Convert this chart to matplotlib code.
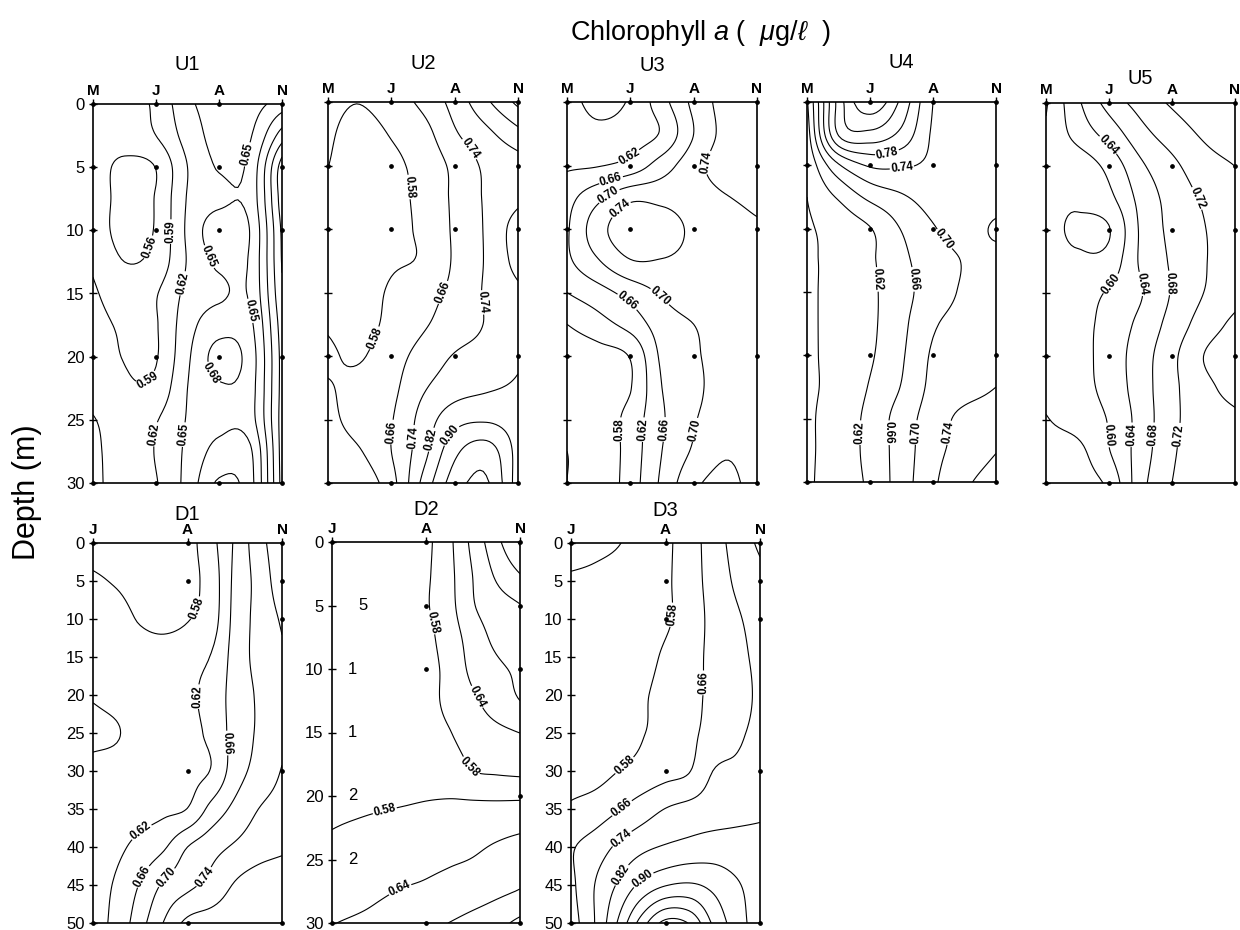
import numpy as np
import matplotlib
matplotlib.use("Agg")
import matplotlib.pyplot as plt

plt.rcParams['font.family'] = ['Liberation Sans', 'DejaVu Sans']
plt.rcParams['mathtext.fontset'] = 'custom'
plt.rcParams['mathtext.rm'] = 'Liberation Sans'
plt.rcParams['mathtext.it'] = 'Liberation Sans:italic'

# ---------------------------------------------------------------- data
UP_MONTHS = ['M', 'J', 'A', 'N']
DOWN_MONTHS = ['J', 'A', 'N']

# grid columns (month index) and rows (depth, m)
UP_X = [0, 0.5, 1, 1.5, 2, 2.5, 3]
UP_Z = [0, 2.5, 5, 7.5, 10, 12.5, 15, 17.5, 20, 22.5, 25, 27.5, 30]
DN_X = [0, 0.25, 0.5, 0.75, 1, 1.25, 1.5, 1.75, 2]
DN_Z50 = [0, 5, 10, 15, 20, 25, 30, 35, 40, 45, 50]
DN_Z30 = [0, 2.5, 5, 7.5, 10, 12.5, 15, 17.5, 20, 22.5, 25, 27.5, 30]

U1_CHL = [
    [0.572, 0.578, 0.596, 0.643, 0.662, 0.662, 0.636],
    [0.573, 0.575, 0.590, 0.632, 0.660, 0.652, 0.575],
    [0.575, 0.553, 0.561, 0.620, 0.652, 0.640, 0.515],
    [0.576, 0.552, 0.562, 0.622, 0.643, 0.638, 0.515],
    [0.578, 0.550, 0.563, 0.625, 0.667, 0.648, 0.525],
    [0.586, 0.560, 0.570, 0.622, 0.655, 0.645, 0.528],
    [0.594, 0.575, 0.588, 0.628, 0.645, 0.645, 0.535],
    [0.600, 0.586, 0.588, 0.638, 0.668, 0.656, 0.545],
    [0.603, 0.589, 0.588, 0.645, 0.690, 0.665, 0.550],
    [0.608, 0.594, 0.598, 0.650, 0.677, 0.662, 0.550],
    [0.622, 0.604, 0.618, 0.652, 0.672, 0.662, 0.548],
    [0.630, 0.600, 0.622, 0.656, 0.690, 0.684, 0.548],
    [0.635, 0.595, 0.618, 0.660, 0.714, 0.690, 0.550],
]
U2_CHL = [
    [0.600, 0.582, 0.620, 0.680, 0.770, 0.885, 1.000],
    [0.590, 0.555, 0.585, 0.630, 0.730, 0.800, 0.875],
    [0.581, 0.545, 0.565, 0.605, 0.680, 0.755, 0.790],
    [0.570, 0.540, 0.560, 0.600, 0.675, 0.750, 0.800],
    [0.568, 0.540, 0.560, 0.595, 0.672, 0.750, 0.860],
    [0.566, 0.540, 0.570, 0.590, 0.670, 0.748, 0.850],
    [0.570, 0.550, 0.590, 0.630, 0.680, 0.750, 0.805],
    [0.575, 0.555, 0.600, 0.650, 0.700, 0.745, 0.800],
    [0.588, 0.574, 0.625, 0.690, 0.745, 0.770, 0.810],
    [0.575, 0.600, 0.640, 0.730, 0.785, 0.810, 0.830],
    [0.560, 0.610, 0.655, 0.770, 0.870, 0.890, 0.860],
    [0.540, 0.575, 0.660, 0.790, 0.960, 1.020, 0.870],
    [0.520, 0.530, 0.630, 0.840, 1.020, 1.070, 0.860],
]
U3_CHL = [
    [0.595, 0.568, 0.585, 0.645, 0.710, 0.755, 0.770],
    [0.600, 0.590, 0.600, 0.625, 0.700, 0.752, 0.770],
    [0.615, 0.618, 0.635, 0.680, 0.725, 0.760, 0.770],
    [0.645, 0.690, 0.730, 0.728, 0.725, 0.738, 0.750],
    [0.655, 0.725, 0.765, 0.760, 0.733, 0.728, 0.735],
    [0.652, 0.698, 0.738, 0.738, 0.730, 0.725, 0.728],
    [0.620, 0.645, 0.675, 0.705, 0.722, 0.722, 0.725],
    [0.580, 0.605, 0.635, 0.680, 0.700, 0.715, 0.720],
    [0.555, 0.565, 0.583, 0.668, 0.695, 0.712, 0.715],
    [0.550, 0.560, 0.578, 0.660, 0.692, 0.712, 0.715],
    [0.545, 0.555, 0.595, 0.655, 0.697, 0.715, 0.720],
    [0.540, 0.550, 0.597, 0.660, 0.705, 0.735, 0.720],
    [0.540, 0.550, 0.600, 0.668, 0.730, 0.752, 0.720],
]
U4_CHL = [
    [0.615, 0.835, 0.930, 0.850, 0.740, 0.720, 0.715],
    [0.600, 0.825, 0.850, 0.810, 0.735, 0.720, 0.715],
    [0.585, 0.695, 0.745, 0.745, 0.732, 0.718, 0.715],
    [0.580, 0.625, 0.670, 0.695, 0.715, 0.718, 0.716],
    [0.575, 0.595, 0.618, 0.662, 0.697, 0.712, 0.695],
    [0.575, 0.590, 0.614, 0.650, 0.683, 0.702, 0.712],
    [0.575, 0.590, 0.612, 0.646, 0.680, 0.705, 0.715],
    [0.575, 0.590, 0.612, 0.650, 0.695, 0.712, 0.718],
    [0.575, 0.590, 0.615, 0.655, 0.705, 0.718, 0.725],
    [0.575, 0.590, 0.623, 0.662, 0.710, 0.725, 0.740],
    [0.575, 0.595, 0.632, 0.678, 0.720, 0.750, 0.760],
    [0.575, 0.595, 0.633, 0.678, 0.727, 0.755, 0.778],
    [0.575, 0.597, 0.628, 0.680, 0.733, 0.772, 0.800],
]
U5_CHL = [
    [0.556, 0.632, 0.695, 0.735, 0.765, 0.785, 0.800],
    [0.565, 0.613, 0.655, 0.705, 0.738, 0.765, 0.785],
    [0.568, 0.575, 0.612, 0.672, 0.710, 0.742, 0.760],
    [0.568, 0.565, 0.590, 0.652, 0.695, 0.725, 0.745],
    [0.568, 0.556, 0.558, 0.645, 0.690, 0.718, 0.740],
    [0.570, 0.565, 0.575, 0.645, 0.685, 0.717, 0.738],
    [0.572, 0.580, 0.605, 0.637, 0.683, 0.720, 0.745],
    [0.572, 0.585, 0.615, 0.650, 0.695, 0.738, 0.770],
    [0.570, 0.585, 0.618, 0.660, 0.710, 0.760, 0.785],
    [0.568, 0.585, 0.614, 0.660, 0.710, 0.748, 0.775],
    [0.558, 0.575, 0.603, 0.655, 0.710, 0.740, 0.752],
    [0.545, 0.550, 0.598, 0.658, 0.714, 0.742, 0.750],
    [0.530, 0.540, 0.570, 0.665, 0.720, 0.742, 0.750],
]
D1_CHL = [
    [0.565, 0.565, 0.567, 0.568, 0.568, 0.607, 0.665, 0.723, 0.770],
    [0.585, 0.577, 0.568, 0.566, 0.570, 0.597, 0.669, 0.713, 0.765],
    [0.598, 0.592, 0.577, 0.568, 0.578, 0.600, 0.672, 0.712, 0.745],
    [0.598, 0.598, 0.597, 0.600, 0.607, 0.622, 0.675, 0.712, 0.735],
    [0.583, 0.590, 0.596, 0.603, 0.612, 0.635, 0.675, 0.705, 0.728],
    [0.572, 0.578, 0.592, 0.600, 0.608, 0.630, 0.675, 0.705, 0.730],
    [0.590, 0.592, 0.596, 0.602, 0.610, 0.622, 0.680, 0.714, 0.742],
    [0.596, 0.600, 0.605, 0.612, 0.621, 0.672, 0.710, 0.740, 0.755],
    [0.600, 0.612, 0.632, 0.655, 0.700, 0.725, 0.745, 0.762, 0.772],
    [0.605, 0.625, 0.663, 0.706, 0.730, 0.753, 0.783, 0.800, 0.810],
    [0.605, 0.632, 0.685, 0.742, 0.790, 0.800, 0.805, 0.810, 0.810],
]
D2_CHL = [
    [0.555, 0.555, 0.556, 0.558, 0.568, 0.628, 0.718, 0.803, 0.888],
    [0.555, 0.555, 0.556, 0.558, 0.572, 0.625, 0.702, 0.770, 0.820],
    [0.554, 0.554, 0.555, 0.558, 0.575, 0.622, 0.695, 0.735, 0.758],
    [0.553, 0.553, 0.554, 0.556, 0.566, 0.610, 0.668, 0.715, 0.742],
    [0.552, 0.552, 0.553, 0.555, 0.562, 0.598, 0.655, 0.688, 0.712],
    [0.552, 0.552, 0.553, 0.555, 0.562, 0.595, 0.630, 0.670, 0.700],
    [0.552, 0.552, 0.553, 0.555, 0.560, 0.578, 0.605, 0.625, 0.641],
    [0.553, 0.553, 0.554, 0.556, 0.560, 0.568, 0.583, 0.588, 0.592],
    [0.560, 0.562, 0.566, 0.571, 0.576, 0.578, 0.577, 0.576, 0.576],
    [0.579, 0.586, 0.594, 0.600, 0.605, 0.610, 0.615, 0.622, 0.630],
    [0.595, 0.600, 0.608, 0.617, 0.627, 0.634, 0.642, 0.660, 0.680],
    [0.610, 0.618, 0.632, 0.643, 0.650, 0.660, 0.672, 0.688, 0.703],
    [0.638, 0.648, 0.658, 0.672, 0.688, 0.701, 0.720, 0.742, 0.775],
]
D3_CHL = [
    [0.460, 0.480, 0.497, 0.527, 0.565, 0.620, 0.700, 0.770, 0.835],
    [0.510, 0.515, 0.525, 0.542, 0.568, 0.622, 0.690, 0.752, 0.795],
    [0.520, 0.525, 0.533, 0.548, 0.570, 0.615, 0.682, 0.730, 0.768],
    [0.525, 0.530, 0.540, 0.558, 0.590, 0.628, 0.680, 0.722, 0.755],
    [0.530, 0.535, 0.547, 0.572, 0.600, 0.635, 0.678, 0.718, 0.750],
    [0.535, 0.540, 0.552, 0.576, 0.605, 0.640, 0.690, 0.730, 0.752],
    [0.545, 0.553, 0.580, 0.605, 0.632, 0.656, 0.740, 0.752, 0.757],
    [0.592, 0.615, 0.655, 0.700, 0.742, 0.765, 0.782, 0.795, 0.805],
    [0.652, 0.695, 0.755, 0.800, 0.828, 0.845, 0.855, 0.850, 0.843],
    [0.640, 0.740, 0.830, 0.920, 0.975, 0.990, 0.960, 0.910, 0.860],
    [0.620, 0.740, 0.910, 1.100, 1.245, 1.215, 1.050, 0.940, 0.855],
]

U1_LEVELS = [0.50, 0.53, 0.56, 0.59, 0.62, 0.65, 0.68, 0.71, 0.74]
U2_LEVELS = [0.50, 0.58, 0.66, 0.74, 0.82, 0.90, 0.98, 1.06, 1.14]
U3_LEVELS = [0.54, 0.58, 0.62, 0.66, 0.70, 0.74, 0.78]
U4_LEVELS = [0.58, 0.62, 0.66, 0.70, 0.74, 0.78, 0.82, 0.86, 0.90, 0.94]
U5_LEVELS = [0.52, 0.56, 0.60, 0.64, 0.68, 0.72, 0.76, 0.80]
D1_LEVELS = [0.54, 0.58, 0.62, 0.66, 0.70, 0.74, 0.78, 0.82]
D2_LEVELS = [0.52, 0.58, 0.64, 0.70, 0.76, 0.82, 0.88, 0.94]
D3_LEVELS = [0.50, 0.58, 0.66, 0.74, 0.82, 0.90, 0.98, 1.06, 1.14, 1.22, 1.30]

# sampling stations: (month index, depth)
UP_STATIONS = [(m, z) for m in range(4) for z in (0, 5, 10, 20, 30)]
D1_STATIONS = [(0, 0), (0, 50), (1, 0), (1, 5), (1, 30), (1, 50),
               (2, 0), (2, 5), (2, 10), (2, 30), (2, 50)]
D2_STATIONS = [(0, 0), (0, 30), (1, 0), (1, 5), (1, 10), (1, 30),
               (2, 0), (2, 5), (2, 10), (2, 20), (2, 30)]
D3_STATIONS = [(0, 0), (0, 50), (1, 0), (1, 5), (1, 10), (1, 30), (1, 50),
               (2, 0), (2, 5), (2, 10), (2, 30), (2, 50)]

# stray tick digits printed inside D2
D2_STRAY_TEXT = ['5', '1', '1', '2', '2']
D2_STRAY_DEPTH = [5, 10, 15, 20, 25]


# ---------------------------------------------------------------- helpers
def _cubic_axis(z, factor, axis):
    z = np.moveaxis(np.asarray(z, float), axis, 0)
    n = z.shape[0]
    pos = np.linspace(0, n - 1, (n - 1) * factor + 1)
    i = np.minimum(np.floor(pos).astype(int), n - 2)
    t = (pos - i).reshape((-1,) + (1,) * (z.ndim - 1))
    pad = np.concatenate([2 * z[:1] - z[1:2], z, 2 * z[-1:] - z[-2:-1]], axis=0)
    w0 = -0.5 * t**3 + t**2 - 0.5 * t
    w1 = 1.5 * t**3 - 2.5 * t**2 + 1
    w2 = -1.5 * t**3 + 2 * t**2 + 0.5 * t
    w3 = 0.5 * t**3 - 0.5 * t**2
    out = w0 * pad[i] + w1 * pad[i + 1] + w2 * pad[i + 2] + w3 * pad[i + 3]
    return np.moveaxis(out, 0, axis)


def smooth_field(x, z, values, fx, fz):
    field = _cubic_axis(_cubic_axis(values, fz, 0), fx, 1)
    xf = np.linspace(x[0], x[-1], field.shape[1])
    zf = np.linspace(z[0], z[-1], field.shape[0])
    X, Z = np.meshgrid(xf, zf)
    return X, Z, field


def px_rect(l, t, r, b, W=1240, H=930):
    return [l / W, 1 - b / H, (r - l) / W, (b - t) / H]


PANELS = [
    dict(name='U1', rect=(93, 104, 282, 483), x=UP_X, z=UP_Z, v=U1_CHL,
         lev=U1_LEVELS, months=UP_MONTHS, zmax=30, ylab=True, tdy=40, tdx=0,
         st=UP_STATIONS, f=(10, 12),
         lab=[(2.3, 3.8), (0.86, 11.3), (1.22, 10.1), (1.89, 12.0), (1.43, 14.2),
              (2.36, 16.5), (0.88, 22.0), (1.89, 21.3), (1.09, 26.2), (1.49, 26.2)]),
    dict(name='U2', rect=(328, 102, 518, 483), x=UP_X, z=UP_Z, v=U2_CHL,
         lev=U2_LEVELS, months=UP_MONTHS, zmax=30, ylab=False, tdy=38, tdx=0,
         st=UP_STATIONS, f=(10, 12),
         lab=[(2.21, 3.8), (1.25, 6.7), (1.82, 15.0), (2.4, 15.8), (0.79, 18.7),
              (1.03, 26.0), (1.35, 26.4), (1.64, 26.6), (1.98, 26.4)]),
    dict(name='U3', rect=(567, 102, 757, 483), x=UP_X, z=UP_Z, v=U3_CHL,
         lev=U3_LEVELS, months=UP_MONTHS, zmax=30, ylab=False, tdy=36, tdx=-10,
         st=UP_STATIONS, f=(10, 12),
         lab=[(0.94, 4.0), (2.23, 4.8), (0.71, 6.4), (0.68, 7.5), (0.86, 8.5),
              (1.47, 15.3), (0.94, 15.8), (0.84, 25.8), (1.2, 25.8), (1.58, 25.8),
              (2.0, 25.8)]),
    dict(name='U4', rect=(807, 102, 996, 482), x=UP_X, z=UP_Z, v=U4_CHL,
         lev=U4_LEVELS, months=UP_MONTHS, zmax=30, ylab=False, tdy=39, tdx=0,
         st=UP_STATIONS, f=(10, 12),
         lab=[(1.27, 4.0), (1.51, 5.4), (2.16, 10.9), (1.13, 14.0), (1.69, 14.0),
              (0.81, 26.1), (1.35, 26.1), (1.79, 26.1), (2.24, 26.1)]),
    dict(name='U5', rect=(1046, 103, 1235, 483), x=UP_X, z=UP_Z, v=U5_CHL,
         lev=U5_LEVELS, months=UP_MONTHS, zmax=30, ylab=False, tdy=25, tdx=0,
         st=UP_STATIONS, f=(10, 12),
         lab=[(0.99, 3.3), (2.41, 7.5), (1.02, 14.2), (1.6, 14.2), (2.0, 14.2),
              (1.05, 26.2), (1.38, 26.2), (1.73, 26.2), (2.08, 26.2)]),
    dict(name='D1', rect=(93, 543, 282, 923), x=DN_X, z=DN_Z50, v=D1_CHL,
         lev=D1_LEVELS, months=DOWN_MONTHS, zmax=50, ylab=True, tdy=29, tdx=0,
         st=D1_STATIONS, f=(8, 12),
         lab=[(1.05, 8.4), (1.08, 20.2), (1.45, 26.3), (0.5, 37.8), (0.53, 43.9),
              (0.8, 44.3), (1.17, 43.9)]),
    dict(name='D2', rect=(332, 542, 520, 923), x=DN_X, z=DN_Z30, v=D2_CHL,
         lev=D2_LEVELS, months=DOWN_MONTHS, zmax=30, ylab=True, tdy=32, tdx=0,
         st=D2_STATIONS, f=(8, 10),
         lab=[(1.08, 6.3), (1.54, 12.2), (1.47, 17.7), (0.55, 20.8), (0.72, 27.3)]),
    dict(name='D3', rect=(571, 543, 760, 923), x=DN_X, z=DN_Z50, v=D3_CHL,
         lev=D3_LEVELS, months=DOWN_MONTHS, zmax=50, ylab=True, tdy=33, tdx=0,
         st=D3_STATIONS, f=(8, 12),
         lab=[(1.12, 9.5), (1.4, 18.4), (0.55, 29.0), (0.54, 34.9), (0.52, 38.6),
              (0.5, 43.4), (0.73, 43.7)]),
]

# ---------------------------------------------------------------- figure
fig = plt.figure(figsize=(12.4, 9.3), dpi=100)

for p in PANELS:
    ax = fig.add_axes(px_rect(*p['rect']))
    xmax = len(p['months']) - 1
    ax.set_xlim(0, xmax)
    ax.set_ylim(p['zmax'], 0)

    X, Z, F = smooth_field(p['x'], p['z'], p['v'], *p['f'])
    cs = ax.contour(X, Z, F, levels=p['lev'], colors='k', linewidths=0.8)
    with plt.rc_context({'font.weight': 'bold'}):
        texts = ax.clabel(cs, levels=cs.levels, manual=p['lab'], fmt='%.2f',
                          fontsize=8.3, inline=True, inline_spacing=1)
    for t in texts:
        t.set_fontweight('bold')

    sx = [s[0] for s in p['st']]
    sz = [s[1] for s in p['st']]
    ax.plot(sx, sz, 'o', color='k', ms=2.4, clip_on=False, zorder=5)

    ax.xaxis.tick_top()
    ax.set_xticks(range(len(p['months'])))
    ax.set_xticklabels(p['months'], fontsize=11, fontweight='bold')
    ax.tick_params(axis='x', direction='out', length=3.5, width=1, pad=0.5,
                   top=True, bottom=False)
    ax.set_yticks(np.arange(0, p['zmax'] + 1, 5))
    ax.tick_params(axis='y', direction='inout', length=6, width=1, pad=3,
                   left=True, right=False, labelsize=12)
    if not p['ylab']:
        ax.set_yticklabels([])
    for s in ax.spines.values():
        s.set_linewidth(1.2)

    ax.text(0.5 + p['tdx'] / 190.0, 1 + p['tdy'] / 380.0, p['name'],
            transform=ax.transAxes, ha='center', va='center', fontsize=14.5)

    if p['name'] == 'D2':
        for t, d in zip(D2_STRAY_TEXT, D2_STRAY_DEPTH):
            ax.text(0.33 if t == '5' else 0.22, d, t, ha='center', va='center',
                    fontsize=12)

fig.text(700 / 1240, 1 - 33 / 930, r'Chlorophyll $a$ (  $\mu$g/$\ell$  )',
         ha='center', va='center', fontsize=19.5)
fig.text(27 / 1240, 1 - 492 / 930, 'Depth (m)', rotation=90,
         ha='center', va='center', fontsize=22)

fig.savefig('out.png', dpi=100)
